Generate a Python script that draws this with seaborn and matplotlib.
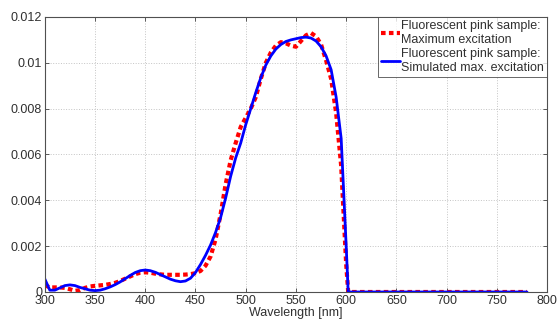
import numpy as np
import pandas as pd
import matplotlib
matplotlib.use("Agg")
import matplotlib.pyplot as plt
import seaborn as sns
from matplotlib.ticker import FuncFormatter

wavelength = [300, 305, 310, 315, 320, 325, 330, 335, 340, 345, 350, 355, 360, 365, 370,
              375, 380, 385, 390, 395, 400, 405, 410, 415, 420, 425, 430, 435, 440, 445,
              450, 455, 460, 465, 470, 475, 480, 485, 490, 495, 500, 505, 510, 515, 520,
              525, 530, 535, 540, 545, 550, 555, 560, 565, 570, 575, 580, 585, 590, 595,
              600, 602, 780]

measured = [0.00030, 0.00020, 0.00020, 0.00020, 0.00018, 0.00012, 0.00005, 0.00008, 0.00018, 0.00024,
            0.00027, 0.00029, 0.00031, 0.00035, 0.00040, 0.00048, 0.00058, 0.00068, 0.00078, 0.00084,
            0.00086, 0.00084, 0.00080, 0.00077, 0.00075, 0.00075, 0.00075, 0.00075, 0.00076, 0.00078,
            0.00082, 0.00092, 0.00115, 0.00155, 0.00230, 0.00340, 0.00470, 0.00575, 0.00650, 0.00720,
            0.00760, 0.00800, 0.00850, 0.00930, 0.01000, 0.01045, 0.01075, 0.01090, 0.01085, 0.01075,
            0.01070, 0.01095, 0.01120, 0.01130, 0.01115, 0.01080, 0.01010, 0.00930, 0.00780, 0.00550,
            0.00120, 0.0, 0.0]

simulated = [0.00057, 0.00008, 0.00008, 0.00018, 0.00028, 0.00031, 0.00028, 0.00020, 0.00014, 0.00008,
             0.00006, 0.00008, 0.00014, 0.00022, 0.00032, 0.00044, 0.00058, 0.00072, 0.00085, 0.00093,
             0.00096, 0.00093, 0.00086, 0.00076, 0.00066, 0.00056, 0.00049, 0.00045, 0.00048, 0.00060,
             0.00085, 0.00120, 0.00160, 0.00205, 0.00260, 0.00325, 0.00410, 0.00505, 0.00585, 0.00650,
             0.00730, 0.00800, 0.00870, 0.00935, 0.00990, 0.01030, 0.01060, 0.01080, 0.01093, 0.01100,
             0.01105, 0.01110, 0.01112, 0.01108, 0.01095, 0.01070, 0.01030, 0.00970, 0.00850, 0.00670,
             0.00200, 0.0, 0.0]

label_measured = "Fluorescent pink sample:\nMaximum excitation"
label_simulated = "Fluorescent pink sample:\nSimulated max. excitation"

x_ticks = [300, 350, 400, 450, 500, 550, 600, 650, 700, 750, 800]
y_ticks = [0, 0.002, 0.004, 0.006, 0.008, 0.010, 0.012]

sns.set_theme(style="white")
plt.rcParams['font.family'] = ['Liberation Sans', 'DejaVu Sans']

fig = plt.figure(figsize=(5.6, 3.2), dpi=100)
ax = fig.add_axes([0.080, 0.0875, 0.897, 0.8595])

sns.lineplot(x=wavelength, y=measured, ax=ax, color="#ff0000", linewidth=3,
             dashes=False, label=label_measured, sort=False)
ax.lines[-1].set_dashes((1.1, 0.8))
ax.lines[-1].set_dash_capstyle("butt")
sns.lineplot(x=wavelength, y=simulated, ax=ax, color="#0000ff", linewidth=2,
             label=label_simulated, sort=False)

ax.set_xlim(300, 800)
ax.set_ylim(0, 0.012)
ax.set_xticks(x_ticks)
ax.set_yticks(y_ticks)
ax.yaxis.set_major_formatter(FuncFormatter(lambda v, p: "%g" % round(v, 6)))
ax.grid(True, linestyle=":", color="#c4c4c4", linewidth=0.7)
ax.tick_params(direction="in", length=3, width=0.6, colors="#404040",
               labelcolor="#303030", labelsize=9, top=True, right=True,
               bottom=True, left=True, pad=2)
for s in ax.spines.values():
    s.set_color("#505050")
    s.set_linewidth(0.8)
ax.set_xlabel("Wavelength [nm]", fontsize=9, color="#303030", labelpad=0)
ax.set_ylabel("")

leg = ax.legend(loc="upper right", fontsize=9, handlelength=1.5, handletextpad=0.1,
                borderaxespad=0.0, borderpad=0.25, labelspacing=0.2, frameon=True,
                fancybox=False)
leg.get_frame().set_edgecolor("#404040")
leg.get_frame().set_linewidth(0.7)
for t in leg.get_texts():
    t.set_color("#303030")

fig.savefig("out.png", dpi=100)
